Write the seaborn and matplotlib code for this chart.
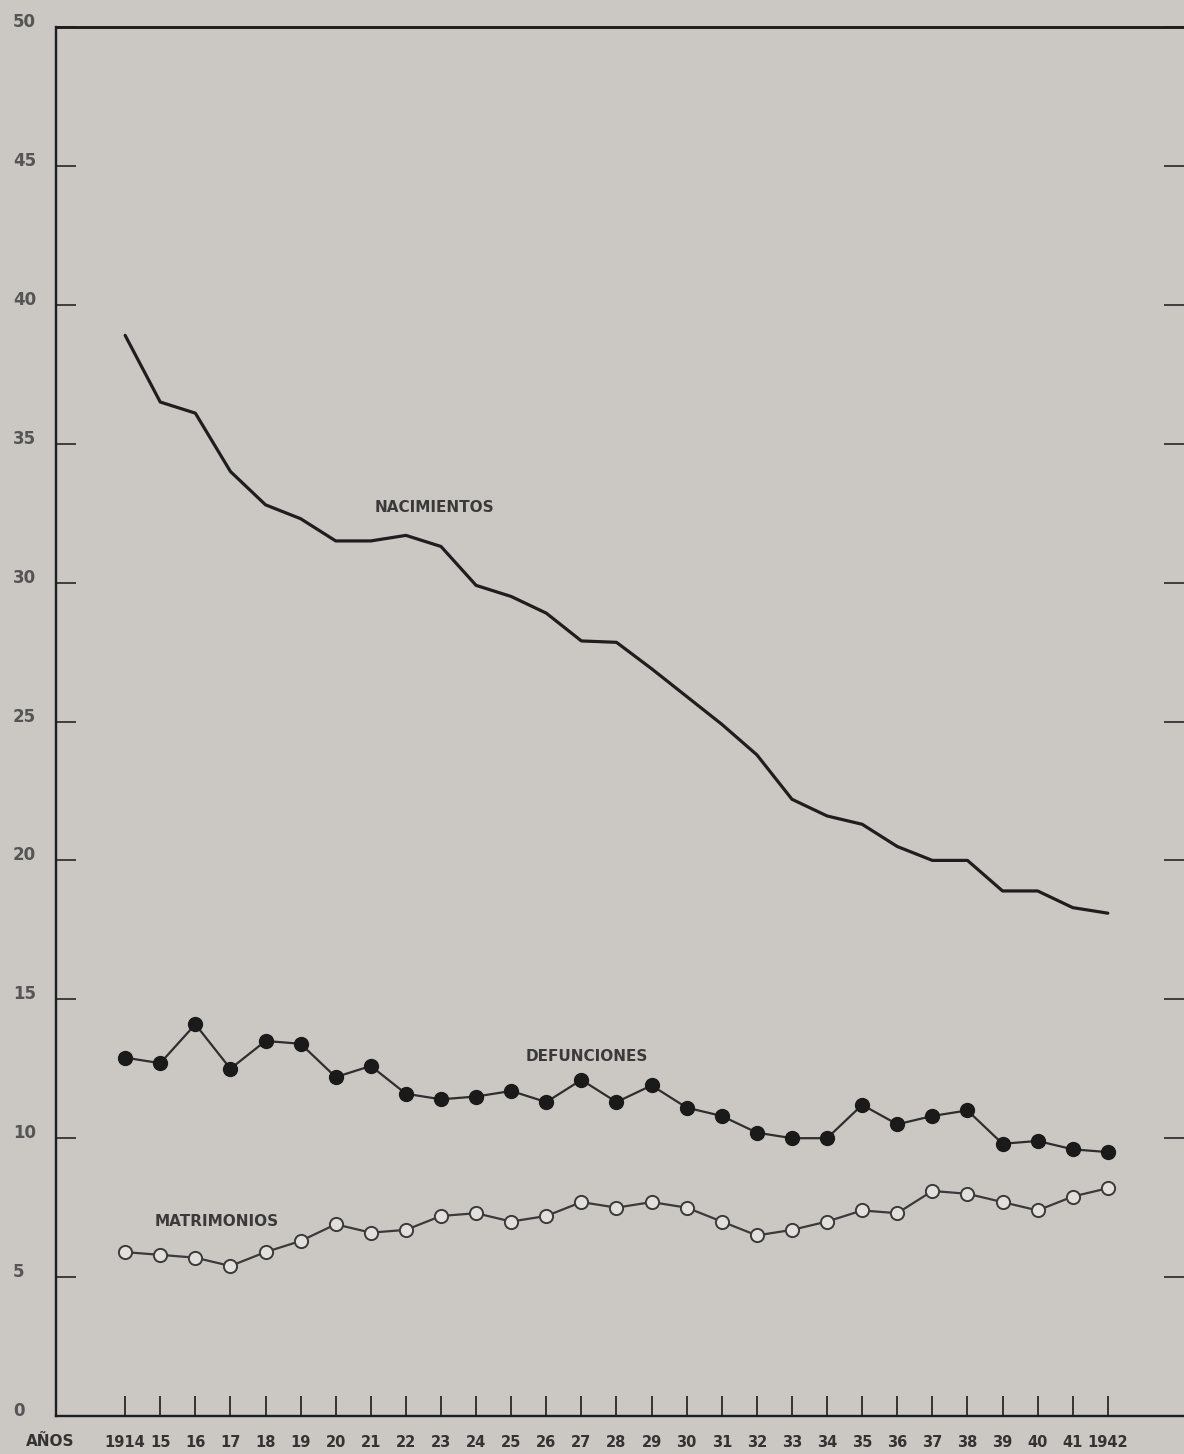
import matplotlib
matplotlib.use("Agg")
import matplotlib.pyplot as plt
import seaborn as sns
import pandas as pd
from matplotlib.transforms import ScaledTranslation

# ---- data (tasas por mil habitantes) ----
years = [1914, 1915, 1916, 1917, 1918, 1919, 1920, 1921, 1922, 1923,
         1924, 1925, 1926, 1927, 1928, 1929, 1930, 1931, 1932, 1933,
         1934, 1935, 1936, 1937, 1938, 1939, 1940, 1941, 1942]
nacimientos = [38.9, 36.5, 36.1, 34.0, 32.8, 32.3, 31.5, 31.5, 31.7, 31.3,
               29.9, 29.5, 28.9, 27.9, 27.85, 26.9, 25.9, 24.9, 23.8, 22.2,
               21.6, 21.3, 20.5, 20.0, 20.0, 18.9, 18.9, 18.3, 18.1]
defunciones = [12.9, 12.7, 14.1, 12.5, 13.5, 13.4, 12.2, 12.6, 11.6, 11.4,
               11.5, 11.7, 11.3, 12.1, 11.3, 11.9, 11.1, 10.8, 10.2, 10.0,
               10.0, 11.2, 10.5, 10.8, 11.0, 9.8, 9.9, 9.6, 9.5]
matrimonios = [5.9, 5.8, 5.7, 5.4, 5.9, 6.3, 6.9, 6.6, 6.7, 7.2,
               7.3, 7.0, 7.2, 7.7, 7.5, 7.7, 7.5, 7.0, 6.5, 6.7,
               7.0, 7.4, 7.3, 8.1, 8.0, 7.7, 7.4, 7.9, 8.2]
x_tick_labels = ["1914", "15", "16", "17", "18", "19", "20", "21", "22", "23",
                 "24", "25", "26", "27", "28", "29", "30", "31", "32", "33",
                 "34", "35", "36", "37", "38", "39", "40", "41", "1942"]
y_ticks = [0, 5, 10, 15, 20, 25, 30, 35, 40, 45, 50]
series_labels = ["NACIMIENTOS", "DEFUNCIONES", "MATRIMONIOS"]
x_axis_title = "AÑOS"

# ---- style ----
BG = "#cbc8c4"
INK = "#1e1e1e"
sns.set_theme(style="ticks")
plt.rcParams["font.family"] = ["DejaVu Sans"]

fig = plt.figure(figsize=(11.84, 14.54), dpi=100, facecolor=BG)
W, H = 1184, 1454
ax_left, ax_right, ax_top, ax_bottom = 56, 1184, 27, 1416
ax = fig.add_axes([ax_left / W, (H - ax_bottom) / H,
                   (ax_right - ax_left) / W, (ax_bottom - ax_top) / H])
ax.set_facecolor(BG)

df_n = pd.DataFrame({"year": years, "value": nacimientos})
df_d = pd.DataFrame({"year": years, "value": defunciones})
df_m = pd.DataFrame({"year": years, "value": matrimonios})

sns.lineplot(data=df_n, x="year", y="value", ax=ax, color=INK, linewidth=2.3)
sns.lineplot(data=df_d, x="year", y="value", ax=ax, color="#2e2e2e", linewidth=1.6,
             marker="o", markersize=10, markerfacecolor="#1a1a1a",
             markeredgecolor="#1a1a1a", markeredgewidth=1.0)
sns.lineplot(data=df_m, x="year", y="value", ax=ax, color="#3a3a3a", linewidth=1.6,
             marker="o", markersize=9.5, markerfacecolor="#e2e0dc",
             markeredgecolor="#3a3a3a", markeredgewidth=1.4)

ax.set_xlim(1912.03, 1944.17)
ax.set_ylim(0, 50)
ax.set_xlabel("")
ax.set_ylabel("")

# spines
for side in ["left", "bottom"]:
    ax.spines[side].set_color(INK)
    ax.spines[side].set_linewidth(1.7)
ax.spines["top"].set_color(INK)
ax.spines["top"].set_linewidth(2.1)
ax.spines["right"].set_visible(False)

# x ticks
ax.set_xticks(years)
ax.set_xticklabels(x_tick_labels)
ax.tick_params(axis="x", direction="in", length=14.4, width=1.4, color="#333333",
               pad=13.5, labelsize=10.5, labelcolor="#333333", top=False)
for lbl in ax.get_xticklabels():
    lbl.set_fontweight("bold")

# y ticks
ax.set_yticks(y_ticks)
ax.set_yticklabels([str(v) for v in y_ticks])
ax.tick_params(axis="y", direction="in", length=14.4, width=1.3, color="#333333",
               left=True, right=True, labelleft=True, labelright=False,
               pad=31, labelsize=12, labelcolor="#555555")
shift = ScaledTranslation(0, 0.07, fig.dpi_scale_trans)
for lbl in ax.get_yticklabels():
    lbl.set_horizontalalignment("left")
    lbl.set_fontweight("bold")
    lbl.set_transform(lbl.get_transform() + shift)

# x axis title
fig.text(50 / W, 1 - 1442 / H, x_axis_title, ha="center", va="center",
         fontsize=11, fontweight="bold", color="#333333")

# series labels
label_kw = dict(ha="center", va="center", fontsize=11, fontweight="bold", color="#3a3a3a")
ax.text(1922.8, 32.7, series_labels[0], **label_kw)
ax.text(1927.15, 12.95, series_labels[1], **label_kw)
ax.text(1916.6, 7.0, series_labels[2], **label_kw)

fig.savefig("out.png", dpi=100, facecolor=BG)
